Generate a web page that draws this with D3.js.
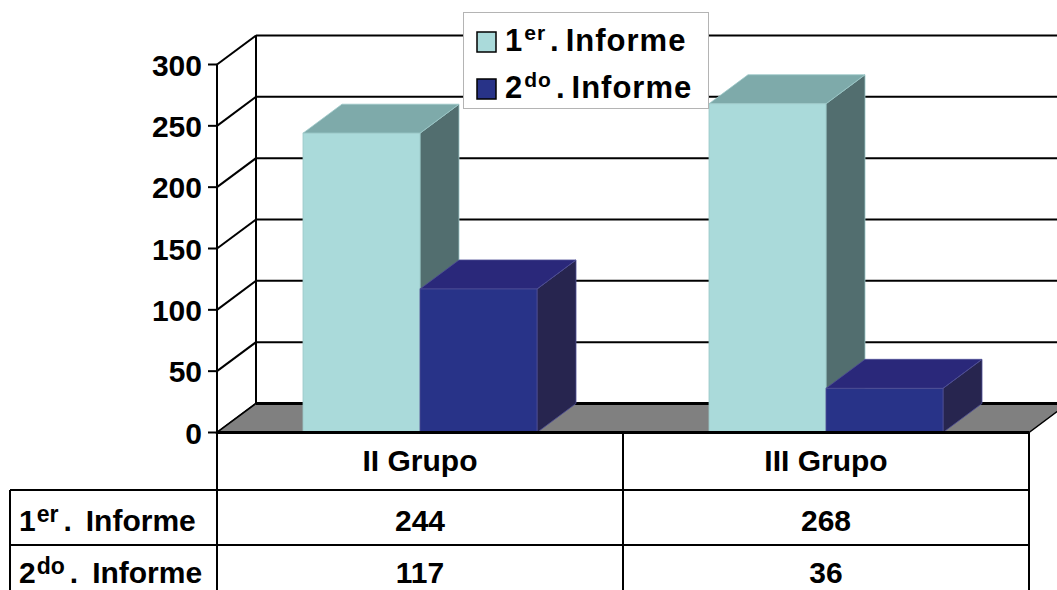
<!DOCTYPE html>
<html>
<head>
<meta charset="utf-8">
<script src="https://cdn.jsdelivr.net/npm/d3@7"></script>
<style>
  html, body { margin: 0; padding: 0; background: #fff; overflow: hidden; }
  svg { display: block; }
  text { font-family: "Liberation Sans", Arial, sans-serif; font-weight: bold; fill: #000; }
</style>
</head>
<body>
<svg id="chart" width="1057" height="590"></svg>
<script>
// Data
const categories = ["II Grupo", "III Grupo"];
const seriesLabels = ["1er. Informe", "2do. Informe"];
const informe1 = [244, 268];
const informe2 = [117, 36];
const yTicks = [0, 50, 100, 150, 200, 250, 300];

// Styles
const frontColors = ["#aadada", "#283388"];
const topColors = ["#7eaaaa", "#2a287a"];
const sideColors = ["#526e6f", "#27254f"];
const edgeColors = ["#9cc8c8", "#4f4f95"];

const svg = d3.select("#chart");
const W = 1057, H = 590;

// 3D depth offset of the plot box
const DX = 39, DY = -29;

const y = d3.scaleLinear().domain([0, 300]).range([432.5, 64.5]);
const x0 = d3.scaleBand().domain(categories).range([217, 1029]);
const x1 = d3.scaleBand().domain([0, 1]).range([0, x0.bandwidth()]).paddingInner(0).paddingOuter(0.735);

const values = [informe1, informe2];

// Back wall gridlines and side wall diagonals
const gWall = svg.append("g");
yTicks.forEach(t => {
  gWall.append("line")
    .attr("x1", 217 + DX).attr("x2", W + 60)
    .attr("y1", y(t) + DY).attr("y2", y(t) + DY)
    .attr("stroke", "#000").attr("stroke-width", 2);
  gWall.append("line")
    .attr("x1", 217).attr("y1", y(t))
    .attr("x2", 217 + DX).attr("y2", y(t) + DY)
    .attr("stroke", "#000").attr("stroke-width", 2);
});
gWall.append("line")
  .attr("x1", 217 + DX).attr("x2", 217 + DX)
  .attr("y1", y(300) + DY).attr("y2", y(0) + DY)
  .attr("stroke", "#000").attr("stroke-width", 2);

// Floor
const x0s = 217, x0e = 1029;
svg.append("path")
  .attr("d", `M${x0s},${y(0)} L${x0s + DX},${y(0) + DY} L${x0e + DX},${y(0) + DY} L${x0e},${y(0)} Z`)
  .attr("fill", "#808080").attr("stroke", "#000").attr("stroke-width", 1.5);
svg.append("line")
  .attr("x1", x0s + DX).attr("x2", W + 60)
  .attr("y1", y(0) + DY).attr("y2", y(0) + DY)
  .attr("stroke", "#000").attr("stroke-width", 3);

// Bars: side, top, then front face
const gBars = svg.append("g");
categories.forEach((c, ci) => {
  [0, 1].forEach(si => {
    const v = values[si][ci];
    const xl = x0(c) + x1(si);
    const xr = xl + x1.bandwidth();
    const yt = y(v), yb = y(0);
    const g = gBars.append("g");
    g.append("path")
      .attr("d", `M${xr},${yb} L${xr + DX},${yb + DY} L${xr + DX},${yt + DY} L${xr},${yt} Z`)
      .attr("fill", sideColors[si]).attr("stroke", edgeColors[si]).attr("stroke-width", 0.8);
    g.append("path")
      .attr("d", `M${xl},${yt} L${xl + DX},${yt + DY} L${xr + DX},${yt + DY} L${xr},${yt} Z`)
      .attr("fill", topColors[si]).attr("stroke", edgeColors[si]).attr("stroke-width", 0.8);
    g.append("rect")
      .attr("x", xl).attr("y", yt)
      .attr("width", x1.bandwidth()).attr("height", yb - yt)
      .attr("fill", frontColors[si]).attr("stroke", edgeColors[si]).attr("stroke-width", 0.8);
  });
});

// Front value axis
const gAxis = svg.append("g");
gAxis.append("line")
  .attr("x1", 217).attr("x2", 217)
  .attr("y1", y(300)).attr("y2", 490)
  .attr("stroke", "#000").attr("stroke-width", 2);
yTicks.forEach(t => {
  gAxis.append("line")
    .attr("x1", 208).attr("x2", 217)
    .attr("y1", y(t)).attr("y2", y(t))
    .attr("stroke", "#000").attr("stroke-width", 2);
  gAxis.append("text")
    .attr("x", 202).attr("y", y(t) + 11)
    .attr("text-anchor", "end")
    .attr("font-size", 30)
    .text(t);
});

// Floor front edge
svg.append("line")
  .attr("x1", 217).attr("x2", 1029)
  .attr("y1", y(0)).attr("y2", y(0))
  .attr("stroke", "#000").attr("stroke-width", 3);

// Label with superscript ordinal, e.g. "1er. Informe"
function ordinalLabel(sel, label, supSize, rise, dotGap, wordGap) {
  const m = label.match(/^(\d+)([a-z]+)\.\s*(.*)$/);
  sel.append("tspan").text(m[1]);
  sel.append("tspan").attr("font-size", supSize).attr("dx", 1).attr("dy", -rise).text(m[2]);
  sel.append("tspan").attr("dx", dotGap).attr("dy", rise).text(".");
  sel.append("tspan").attr("dx", wordGap).text(m[3]);
}

// Data table
const rowY = [432.5, 490, 545];
const gTable = svg.append("g");
const tLine = (xa, ya, xb, yb) => gTable.append("line")
  .attr("x1", xa).attr("y1", ya).attr("x2", xb).attr("y2", yb)
  .attr("stroke", "#000").attr("stroke-width", 2);
tLine(10, rowY[1], 1029, rowY[1]);
tLine(10, rowY[2], 1029, rowY[2]);
tLine(10, rowY[1], 10, H + 5);
tLine(217, rowY[0], 217, H + 5);
categories.forEach(c => tLine(x0(c) + x0.bandwidth(), rowY[0], x0(c) + x0.bandwidth(), H + 5));

categories.forEach((c, ci) => {
  const cx = x0(c) + x0.bandwidth() / 2;
  gTable.append("text").attr("x", cx).attr("y", 471).attr("text-anchor", "middle")
    .attr("font-size", 30).text(c);
  values.forEach((vals, si) => {
    gTable.append("text").attr("x", cx).attr("y", [531, 583][si]).attr("text-anchor", "middle")
      .attr("font-size", 30).text(vals[ci]);
  });
});
seriesLabels.forEach((lab, si) => {
  const t = gTable.append("text").attr("x", 19).attr("y", [531, 583][si]).attr("font-size", 30);
  ordinalLabel(t, lab, 23, 9, 5, 14);
});

// Legend
const gLeg = svg.append("g");
gLeg.append("rect").attr("x", 463.5).attr("y", 12.5).attr("width", 245).attr("height", 96)
  .attr("fill", "#fff").attr("stroke", "#b4b4b4").attr("stroke-width", 1);
seriesLabels.forEach((lab, si) => {
  const cy = [42, 89][si];
  gLeg.append("rect").attr("x", 477).attr("y", cy - 10).attr("width", 19).attr("height", 20)
    .attr("fill", frontColors[si]).attr("stroke", "#000").attr("stroke-width", 1.5);
  const t = gLeg.append("text").attr("x", 505).attr("y", cy + 9).attr("font-size", 31)
    .attr("letter-spacing", 1);
  ordinalLabel(t, lab, 21, 11, 4, 6);
});
</script>
</body>
</html>
